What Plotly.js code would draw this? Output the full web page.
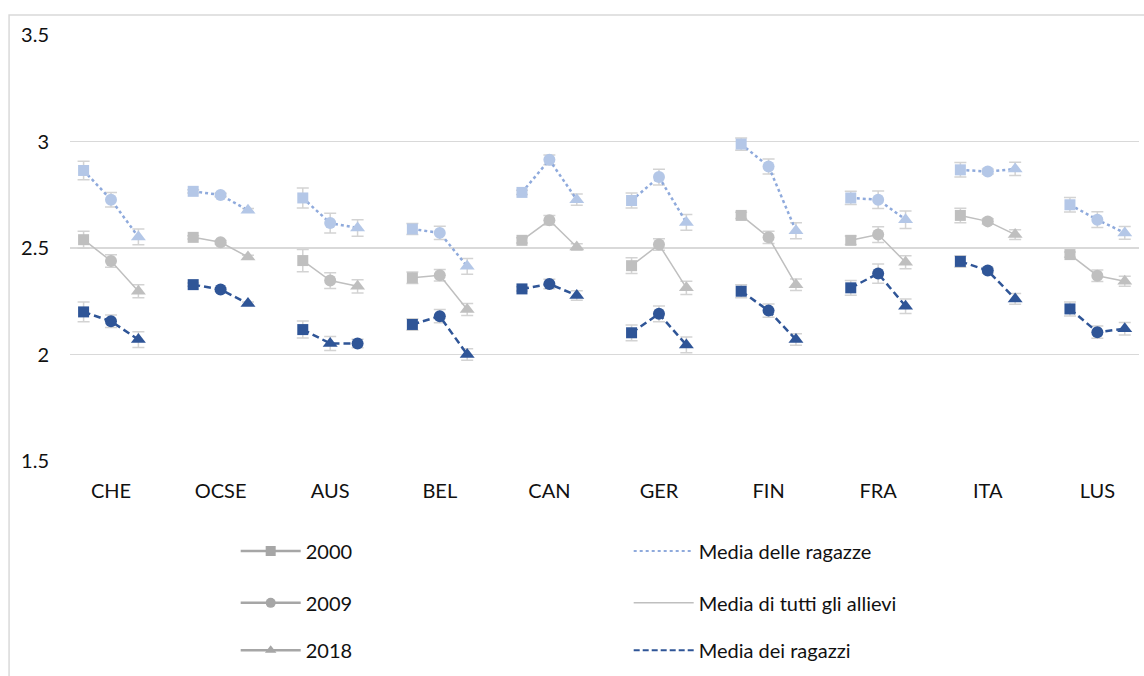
<!DOCTYPE html>
<html>
<head>
<meta charset="utf-8">
<script src="https://cdn.plot.ly/plotly-3.0.1.min.js"></script>
<style>html,body{margin:0;padding:0;background:#fff;}#chart{width:1144px;height:676px;}</style>
</head>
<body>
<div id="chart"></div>
<script>
const categories = ['CHE','OCSE','AUS','BEL','CAN','GER','FIN','FRA','ITA','LUS'];
const years = ['2000','2009','2018'];

const girls2000 = [2.864, 2.766, 2.735, 2.589, 2.761, 2.723, 2.988, 2.735, 2.867, 2.703];
const girls2009 = [2.727, 2.749, 2.617, 2.571, 2.914, 2.833, 2.883, 2.727, 2.859, 2.633];
const girls2018 = [2.552, 2.677, 2.594, 2.414, 2.727, 2.620, 2.581, 2.633, 2.871, 2.571];

const all2000 = [2.539, 2.550, 2.441, 2.360, 2.536, 2.417, 2.653, 2.536, 2.653, 2.469];
const all2009 = [2.439, 2.527, 2.347, 2.372, 2.630, 2.516, 2.550, 2.563, 2.625, 2.370];
const all2018 = [2.297, 2.458, 2.320, 2.211, 2.505, 2.313, 2.328, 2.433, 2.563, 2.344];

const boys2000 = [2.200, 2.328, 2.117, 2.141, 2.308, 2.102, 2.297, 2.313, 2.437, 2.214];
const boys2009 = [2.156, 2.305, 2.052, 2.180, 2.331, 2.191, 2.206, 2.380, 2.394, 2.105];
const boys2018 = [2.070, 2.239, 2.052, 2.000, 2.277, 2.045, 2.070, 2.227, 2.261, 2.121];

const errGirls2000 = [0.043, 0.008, 0.047, 0.026, 0.010, 0.035, 0.029, 0.031, 0.034, 0.034];
const errGirls2009 = [0.034, 0.008, 0.046, 0.031, 0.023, 0.037, 0.035, 0.041, 0.012, 0.037];
const errGirls2018 = [0.037, 0.008, 0.039, 0.037, 0.026, 0.037, 0.037, 0.041, 0.031, 0.030];
const errAll2000 = [0.040, 0.008, 0.052, 0.027, 0.012, 0.037, 0.015, 0.020, 0.034, 0.012];
const errAll2009 = [0.029, 0.008, 0.037, 0.027, 0.022, 0.027, 0.029, 0.037, 0.012, 0.027];
const errAll2018 = [0.031, 0.008, 0.031, 0.028, 0.015, 0.031, 0.027, 0.031, 0.023, 0.023];
const errBoys2000 = [0.046, 0.008, 0.040, 0.027, 0.010, 0.037, 0.031, 0.035, 0.027, 0.033];
const errBoys2009 = [0.029, 0.008, 0.033, 0.031, 0.022, 0.037, 0.031, 0.045, 0.012, 0.029];
const errBoys2018 = [0.037, 0.008, 0.020, 0.027, 0.022, 0.037, 0.027, 0.034, 0.025, 0.029];

// marker symbol per year; AUS boys drawn with swapped markers in the original
const yearSymbols = ['square', 'circle', 'triangle-up'];
const boysSymbolOverride = {AUS: ['square', 'triangle-up', 'circle']};

const seriesNames = ['Media delle ragazze', 'Media di tutti gli allievi', 'Media dei ragazzi'];

const FONT = 'Lato, "Open Sans", sans-serif';
const offset = 0.25;
const symSize = {'square': 11, 'circle': 12, 'triangle-up': 13};

function collect(vals, errs, override) {
  const x = [], y = [], e = [], sym = [];
  categories.forEach((c, i) => {
    for (let j = 0; j < 3; j++) {
      x.push(i + (j - 1) * offset);
      y.push(vals[j][i]);
      e.push(errs[j][i]);
      sym.push(override && override[c] ? override[c][j] : yearSymbols[j]);
    }
    x.push(null); y.push(null); e.push(null); sym.push('circle');
  });
  return {x, y, e, sym};
}

function errTrace(d) {
  return {type: 'scatter', mode: 'markers', x: d.x, y: d.y, showlegend: false, hoverinfo: 'skip',
    marker: {size: 2, opacity: 0},
    error_y: {type: 'data', array: d.e, visible: true, color: '#D3D3D3', thickness: 1.5, width: 6}};
}

function lineTrace(d, style) {
  return {type: 'scatter', mode: 'lines+markers', x: d.x, y: d.y, showlegend: false, hoverinfo: 'skip',
    connectgaps: false, line: style.line,
    marker: {symbol: d.sym, size: d.sym.map(s => symSize[s]), color: style.marker, opacity: 1, line: {width: 0}}};
}

const dGirls = collect([girls2000, girls2009, girls2018], [errGirls2000, errGirls2009, errGirls2018]);
const dAll = collect([all2000, all2009, all2018], [errAll2000, errAll2009, errAll2018]);
const dBoys = collect([boys2000, boys2009, boys2018], [errBoys2000, errBoys2009, errBoys2018], boysSymbolOverride);

const traces = [
  errTrace(dAll), errTrace(dGirls), errTrace(dBoys),
  lineTrace(dAll, {line: {color: '#BFBFBF', width: 1.5}, marker: '#BFBFBF'}),
  lineTrace(dGirls, {line: {color: '#8FAADC', width: 2.5, dash: 'dot'}, marker: '#B4C7E7'}),
  lineTrace(dBoys, {line: {color: '#2F5597', width: 2.5, dash: '7px,4px'}, marker: '#2F5597'})
];

// legend entries
const legendKeys = ['legend', 'legend2', 'legend3'];
const legendStyles = [
  {color: '#8FAADC', width: 2, dash: 'dot'},
  {color: '#BFBFBF', width: 1.5},
  {color: '#2F5597', width: 2, dash: '6px,3px'}
];
years.forEach((yr, j) => {
  traces.push({type: 'scatter', mode: 'lines+markers', x: [null], y: [null], name: yr, legend: legendKeys[j],
    line: {color: '#A6A6A6', width: 2.5}, marker: {symbol: yearSymbols[j], size: 10, color: '#A6A6A6'}});
  traces.push({type: 'scatter', mode: 'lines', x: [null], y: [null], name: seriesNames[j], legend: legendKeys[j],
    line: legendStyles[j]});
});

function legendAt(y) {
  return {orientation: 'h', x: 0.155, xanchor: 'left', y: y, yanchor: 'middle',
    font: {family: FONT, size: 20, color: '#111'}, entrywidth: 318, itemwidth: 60,
    bgcolor: 'rgba(0,0,0,0)', traceorder: 'normal'};
}

const layout = {
  width: 1144, height: 676,
  margin: {l: 70, r: 5, t: 35, b: 215},
  paper_bgcolor: '#fff', plot_bgcolor: '#fff',
  font: {family: FONT, size: 20, color: '#111'},
  xaxis: {range: [-0.374, 9.38], tickvals: categories.map((c, i) => i), ticktext: categories,
    showgrid: false, zeroline: false, showline: false, ticks: '', ticklabelstandoff: 16, fixedrange: true},
  yaxis: {range: [1.5, 3.5], tickvals: [1.5, 2, 2.5, 3, 3.5], ticktext: ['1.5', '2', '2.5', '3', '3.5'],
    showgrid: true, gridcolor: '#D9D9D9', gridwidth: 1.5, zeroline: false, showline: false, ticks: '',
    ticklabelstandoff: 20, fixedrange: true},
  legend: legendAt(-0.211),
  legend2: legendAt(-0.333),
  legend3: legendAt(-0.444),
  shapes: [{type: 'rect', xref: 'paper', yref: 'paper', x0: -0.057, x1: 1.2, y0: -0.8, y1: 1.047,
    line: {color: '#D9D9D9', width: 1.5}, fillcolor: 'rgba(0,0,0,0)', layer: 'below'}],
  showlegend: true
};

Plotly.newPlot('chart', traces, layout, {staticPlot: true, displayModeBar: false});
</script>
</body>
</html>
